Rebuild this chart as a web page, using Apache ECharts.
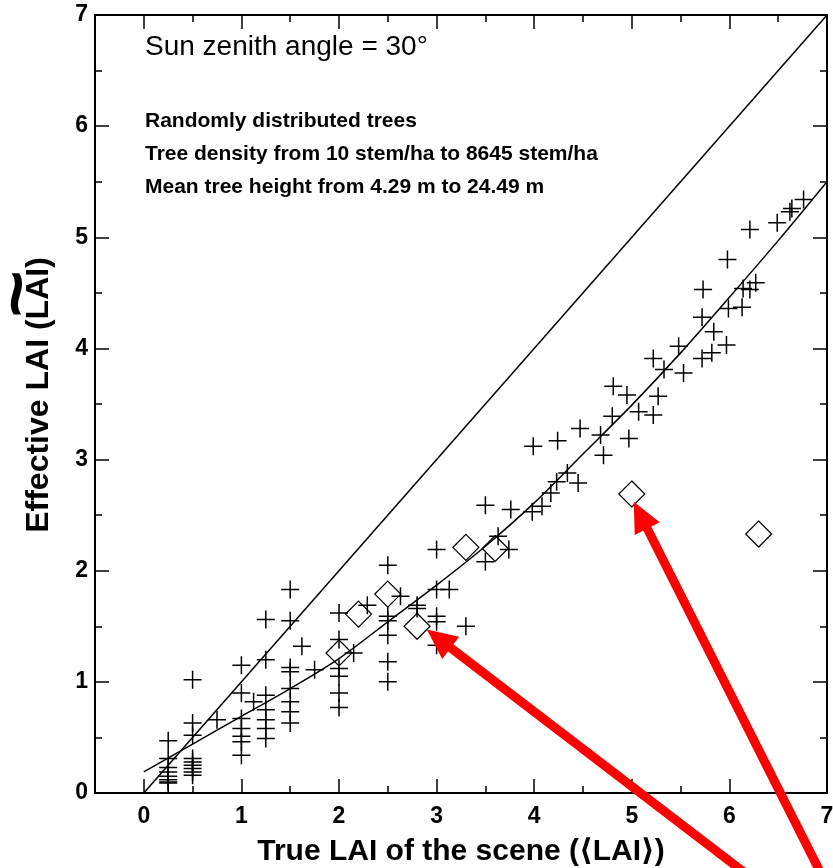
<!DOCTYPE html>
<html>
<head>
<meta charset="utf-8">
<title>Effective LAI vs true LAI</title>
<script src="https://cdn.jsdelivr.net/npm/echarts@6/dist/echarts.min.js"></script>
<style>
  html, body { margin: 0; padding: 0; background: #fff; }
  #main { width: 833px; height: 868px; }
</style>
</head>
<body>
<div id="main"></div>
<script>
// tick labels
var xTicks = [0, 1, 2, 3, 4, 5, 6, 7];
var yTicks = [0, 1, 2, 3, 4, 5, 6, 7];

// simulated scenes (crosses): [true LAI, effective LAI]
var crossPts = [
  [0.25, 0.47], [0.25, 0.31], [0.25, 0.23], [0.25, 0.19], [0.25, 0.15], [0.25, 0.12], [0.25, 0.10], [0.25, 0.09],
  [0.5, 1.02], [0.5, 0.63], [0.5, 0.52], [0.5, 0.31], [0.5, 0.28], [0.5, 0.25], [0.5, 0.22], [0.5, 0.19], [0.5, 0.16],
  [0.75, 0.66],
  [1.0, 1.15], [1.0, 0.90], [1.0, 0.67], [1.0, 0.58], [1.0, 0.51], [1.0, 0.46], [1.0, 0.34],
  [1.125, 0.82],
  [1.25, 1.56], [1.25, 1.20], [1.25, 0.88], [1.25, 0.75], [1.25, 0.66], [1.25, 0.58], [1.25, 0.49],
  [1.5, 1.83], [1.5, 1.55], [1.5, 1.13], [1.5, 1.09], [1.5, 0.94], [1.5, 0.82], [1.5, 0.73], [1.5, 0.63],
  [1.62, 1.32], [1.75, 1.11],
  [2.0, 1.62], [2.0, 1.38], [2.0, 1.12], [2.0, 1.05], [2.0, 0.90], [2.0, 0.77],
  [2.15, 1.26], [2.29, 1.69],
  [2.5, 2.05], [2.5, 1.59], [2.5, 1.55], [2.5, 1.42], [2.5, 1.18], [2.5, 1.00],
  [2.63, 1.77], [2.8, 1.69], [2.8, 1.66],
  [3.0, 2.19], [3.0, 1.83], [3.0, 1.59], [3.0, 1.54], [3.0, 1.33],
  [3.13, 1.83], [3.3, 1.50],
  [3.5, 2.08], [3.63, 2.31], [3.74, 2.19], [3.5, 2.59], [3.76, 2.55], [3.98, 2.53], [4.08, 2.58],
  [4.17, 2.70], [4.23, 2.80], [4.34, 2.88], [4.45, 2.79], [3.99, 3.12], [4.24, 3.17], [4.47, 3.28],
  [4.68, 3.22], [4.71, 3.04], [4.80, 3.39], [4.81, 3.66], [4.97, 3.19], [4.95, 3.58], [5.07, 3.43],
  [5.22, 3.40], [5.27, 3.57], [5.22, 3.91], [5.33, 3.81], [5.48, 4.02], [5.53, 3.78], [5.72, 3.91],
  [5.82, 3.96], [5.84, 4.15], [5.97, 4.03], [5.72, 4.28], [5.73, 4.53], [5.99, 4.36], [6.13, 4.37],
  [6.14, 4.54], [6.21, 4.53], [6.27, 4.59], [5.98, 4.80], [6.21, 5.07], [6.49, 5.13], [6.62, 5.23],
  [6.64, 5.26], [6.76, 5.34]
];

// diamonds
var diamondPts = [
  [2.0, 1.26], [2.2, 1.61], [2.5, 1.79], [2.8, 1.50], [3.3, 2.21], [3.6, 2.20], [5.0, 2.69], [6.3, 2.33]
];

// 1:1 line and fitted curve
var oneToOne = [[0, 0], [7, 7]];
var fitX = [0, 0.5, 1, 1.5, 2, 2.5, 3, 3.5, 4, 4.5, 5, 5.5, 6, 6.5, 7];
var fitY = [0.19, 0.44, 0.69, 0.94, 1.21, 1.54, 1.87, 2.22, 2.61, 3.05, 3.49, 3.96, 4.46, 4.97, 5.5];

// red arrows: tip and tail in data units
var arrowTips = [[2.90, 1.47], [5.02, 2.62]];
var arrowTails = [[6.25, -0.78], [6.97, -0.78]];

var FONT = '"Liberation Sans", Arial, "DejaVu Sans", sans-serif';

var chart = echarts.init(document.getElementById('main'));

var fitData = fitX.map(function (x, i) { return [x, fitY[i]]; });

var baseX = {
    type: 'value', min: -0.5, max: 7, gridIndex: 0,
    splitLine: { show: false }
};

var option = {
    backgroundColor: '#fff',
    animation: false,
    grid: { left: 95, right: 6, top: 15, bottom: 75, containLabel: false, outerBoundsMode: 'none' },
    xAxis: [
        Object.assign({}, baseX, {
            position: 'bottom',
            axisLine: { show: true, onZero: false, lineStyle: { color: '#000', width: 2 } },
            axisTick: { show: true, inside: true, length: 14, customValues: xTicks, lineStyle: { color: '#000', width: 1.5 } },
            axisLabel: { show: true, customValues: xTicks, margin: 12, color: '#000', fontSize: 23, fontWeight: 'bold', fontFamily: FONT },
            name: 'True LAI of the scene (\u27E8LAI\u27E9)',
            nameLocation: 'middle',
            nameGap: 44,
            nameMoveOverlap: false,
            nameTextStyle: { color: '#000', fontSize: 30, fontWeight: 'bold', fontFamily: FONT }
        }),
        Object.assign({}, baseX, {
            position: 'bottom', interval: 0.5,
            axisLine: { show: false, onZero: false },
            axisTick: { show: true, inside: true, length: 7, lineStyle: { color: '#000', width: 1.5 } },
            axisLabel: { show: false }
        }),
        Object.assign({}, baseX, {
            position: 'top',
            axisLine: { show: true, onZero: false, lineStyle: { color: '#000', width: 2 } },
            axisTick: { show: true, inside: true, length: 14, customValues: xTicks, lineStyle: { color: '#000', width: 1.5 } },
            axisLabel: { show: false }
        }),
        Object.assign({}, baseX, {
            position: 'top', interval: 0.5,
            axisLine: { show: false, onZero: false },
            axisTick: { show: true, inside: true, length: 7, lineStyle: { color: '#000', width: 1.5 } },
            axisLabel: { show: false }
        })
    ],
    yAxis: [
        {
            type: 'value', min: 0, max: 7, interval: 1, position: 'left',
            splitLine: { show: false },
            axisLine: { show: true, onZero: false, lineStyle: { color: '#000', width: 2 } },
            axisTick: { show: true, inside: true, length: 14, lineStyle: { color: '#000', width: 1.5 } },
            minorTick: { show: true, splitNumber: 2, length: 7, lineStyle: { color: '#000', width: 1.5 } },
            axisLabel: { show: true, margin: 7, color: '#000', fontSize: 23, fontWeight: 'bold', fontFamily: FONT,
                formatter: function (v) { return yTicks.indexOf(v) >= 0 ? String(v) : ''; } },
            name: 'Effective LAI (LAI)',
            nameLocation: 'middle',
            nameGap: 40,
            nameMoveOverlap: false,
            nameTextStyle: { color: '#000', fontSize: 32, fontWeight: 'bold', fontFamily: FONT, padding: [0, 0, 0, 18] }
        },
        {
            type: 'value', min: 0, max: 7, interval: 1, position: 'right',
            splitLine: { show: false },
            axisLine: { show: true, onZero: false, lineStyle: { color: '#000', width: 2 } },
            axisTick: { show: true, inside: true, length: 14, lineStyle: { color: '#000', width: 1.5 } },
            minorTick: { show: true, splitNumber: 2, length: 7, lineStyle: { color: '#000', width: 1.5 } },
            axisLabel: { show: false }
        }
    ],
    series: [
        {
            name: '1:1', type: 'line', data: oneToOne, symbol: 'none', silent: true,
            lineStyle: { color: '#000', width: 1.5 }
        },
        {
            name: 'fit', type: 'line', data: fitData, symbol: 'none', smooth: 0.3, silent: true,
            lineStyle: { color: '#000', width: 1.5 }
        },
        {
            name: 'scenes', type: 'scatter', data: crossPts,
            symbol: 'path://M9,0L9,18M0,9L18,9', symbolSize: 18,
            itemStyle: { color: 'none', borderColor: '#000', borderWidth: 1.5, opacity: 1 }
        },
        {
            name: 'special', type: 'scatter', data: diamondPts,
            symbol: 'diamond', symbolSize: 26,
            itemStyle: { color: 'rgba(0,0,0,0)', borderColor: '#000', borderWidth: 1.2, opacity: 1 }
        }
    ]
};

chart.setOption(option);

// annotations and arrows
var graphics = [
    { type: 'text', x: 145, y: 47, z: 10,
      style: { text: 'Sun zenith angle = 30\u00B0', fontSize: 28, fontFamily: FONT, fill: '#000', verticalAlign: 'middle' } },
    { type: 'text', x: 145, y: 121, z: 10,
      style: { text: 'Randomly distributed trees', fontSize: 21, fontWeight: 'bold', fontFamily: FONT, fill: '#000', verticalAlign: 'middle' } },
    { type: 'text', x: 145, y: 154, z: 10,
      style: { text: 'Tree density from 10 stem/ha to 8645 stem/ha', fontSize: 21, fontWeight: 'bold', fontFamily: FONT, fill: '#000', verticalAlign: 'middle' } },
    { type: 'text', x: 145, y: 187, z: 10,
      style: { text: 'Mean tree height from 4.29 m to 24.49 m', fontSize: 21, fontWeight: 'bold', fontFamily: FONT, fill: '#000', verticalAlign: 'middle' } },
    // tilde over "LAI" in the y axis title
    { type: 'text', x: 21, y: 294, rotation: Math.PI / 2, scaleX: 1.45, scaleY: 1.25, z: 10,
      style: { text: '~', fontSize: 56, fontWeight: 'bold', fontFamily: FONT, fill: '#000', align: 'center', verticalAlign: 'middle' } }
];

arrowTips.forEach(function (tip, i) {
    var p = chart.convertToPixel({ xAxisIndex: 0, yAxisIndex: 0 }, tip);
    var q = chart.convertToPixel({ xAxisIndex: 0, yAxisIndex: 0 }, arrowTails[i]);
    var dx = p[0] - q[0], dy = p[1] - q[1];
    var len = Math.sqrt(dx * dx + dy * dy);
    var ux = dx / len, uy = dy / len;
    var headLen = 30, halfW = 14;
    var bx = p[0] - ux * headLen, by = p[1] - uy * headLen;
    graphics.push({
        type: 'line', z: 20, silent: true,
        shape: { x1: q[0], y1: q[1], x2: bx + ux * 2, y2: by + uy * 2 },
        style: { stroke: '#ff0000', lineWidth: 9 }
    });
    graphics.push({
        type: 'polygon', z: 20, silent: true,
        shape: { points: [[p[0], p[1]], [bx - uy * halfW, by + ux * halfW], [bx + uy * halfW, by - ux * halfW]] },
        style: { fill: '#ff0000' }
    });
});

chart.setOption({ graphic: graphics });
</script>
</body>
</html>
